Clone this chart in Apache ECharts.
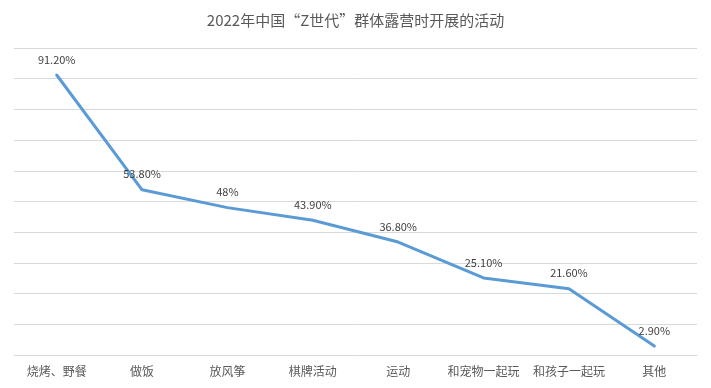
<!DOCTYPE html>
<html>
<head>
<meta charset="utf-8">
<script src="https://cdn.jsdelivr.net/npm/echarts@6/dist/echarts.min.js"></script>
<style>html,body{margin:0;padding:0;background:#fff}#c{width:711px;height:388px}</style>
</head>
<body>
<div id="c"></div>
<script>
var categories = ['烧烤、野餐', '做饭', '放风筝', '棋牌活动', '运动', '和宠物一起玩', '和孩子一起玩', '其他'];
var values = [91.2, 53.8, 48, 43.9, 36.8, 25.1, 21.6, 2.9];
var valueLabels = ['91.20%', '53.80%', '48%', '43.90%', '36.80%', '25.10%', '21.60%', '2.90%'];
var titleText = '2022年中国“Z世代”群体露营时开展的活动';

var FONT = '"Noto Sans CJK SC", "Noto Sans", sans-serif';
var chart = echarts.init(document.getElementById('c'), null, {renderer: 'canvas'});
chart.setOption({
  animation: false,
  backgroundColor: '#ffffff',
  title: {
    text: titleText, left: 'center', top: 8,
    textStyle: {fontFamily: FONT, fontSize: 15, fontWeight: 'normal', color: '#595959'}
  },
  grid: {left: 14, right: 14, top: 48, bottom: 33, containLabel: false},
  xAxis: {
    type: 'category', data: categories, boundaryGap: true,
    axisLine: {show: true, lineStyle: {color: '#d9d9d9', width: 1}},
    axisTick: {show: false},
    axisLabel: {fontFamily: FONT, fontSize: 12, color: '#595959', margin: 10, interval: 0}
  },
  yAxis: {
    type: 'value', min: 0, max: 100, interval: 10,
    axisLine: {show: false}, axisTick: {show: false}, axisLabel: {show: false},
    splitLine: {show: true, lineStyle: {color: '#d9d9d9', width: 1}}
  },
  series: [{
    type: 'line', data: values,
    symbol: 'circle', symbolSize: 0.1, showSymbol: true,
    itemStyle: {color: '#5B9BD5'},
    lineStyle: {color: '#5B9BD5', width: 3, cap: 'round', join: 'round'},
    label: {
      show: true, position: 'top', distance: 10,
      fontFamily: FONT, fontSize: 11, color: '#404040',
      formatter: function (p) { return valueLabels[p.dataIndex]; }
    }
  }]
});
</script>
</body>
</html>
